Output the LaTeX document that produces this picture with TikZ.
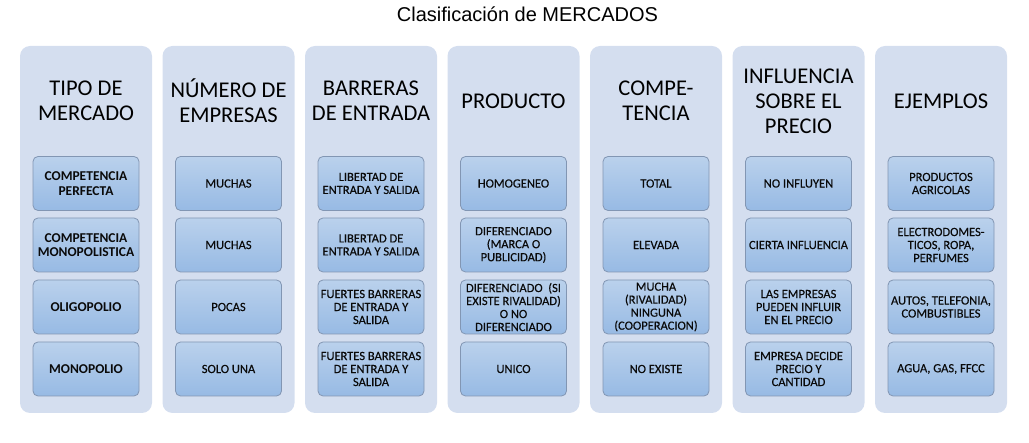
\documentclass[tikz,border=0pt]{standalone}
\usepackage{fontspec}
\setmainfont{Carlito}
\newfontfamily\titlefont{Liberation Sans}
\newfontfamily\cellfont{Carlito}[FakeBold=0.35]
\definecolor{panelc}{HTML}{D4DEEF}
\definecolor{celltop}{HTML}{BAD1EC}
\definecolor{cellbot}{HTML}{97BAE4}
\definecolor{cellborder}{HTML}{8296B3}
\definecolor{textc}{HTML}{0A0A0A}
\tikzset{
  panel/.style={rectangle, fill=panelc, rounded corners=10pt, minimum width=132pt, minimum height=367pt, inner sep=0pt},
  cell/.style={rectangle, draw=cellborder, line width=0.8pt, rounded corners=5pt, top color=celltop, bottom color=cellbot,
    minimum width=106pt, minimum height=54pt, inner sep=0.5pt, align=center, text=textc,
    font=\cellfont\fontsize{12.5}{13}\selectfont},
  bcell/.style={cell, font=\fontsize{13.5}{14.5}\selectfont\bfseries},
  head/.style={align=center, text=black, font=\fontsize{22.5}{25}\selectfont, inner sep=0pt},
}
\begin{document}
\begin{tikzpicture}[x=1pt,y=-1pt]
\useasboundingbox (0,0) rectangle (1029,443);
\node[font=\titlefont\fontsize{20}{22}\selectfont, inner sep=0pt] (title) at (527.5,14) {Clasificación de MERCADOS};
% panels
\node[panel] (p1) at (86,229.5) {};
\node[panel] (p2) at (228.5,229.5) {};
\node[panel] (p3) at (371,229.5) {};
\node[panel] (p4) at (513.5,229.5) {};
\node[panel] (p5) at (656,229.5) {};
\node[panel] (p6) at (798.5,229.5) {};
\node[panel] (p7) at (941,229.5) {};
% headers
\node[head] (h1) at (86,101) {TIPO DE\\MERCADO};
\node[head] (h2) at (228.5,101) {NÚMERO DE\\EMPRESAS};
\node[head] (h3) at (371,101) {BARRERAS\\DE ENTRADA};
\node[head] (h4) at (513.5,101) {PRODUCTO};
\node[head] (h5) at (656,101) {COMPE-\\TENCIA};
\node[head] (h6) at (798.5,101) {INFLUENCIA\\SOBRE EL\\PRECIO};
\node[head] (h7) at (941,101) {EJEMPLOS};
% column 1
\node[bcell] (c11) at (86,183.5) {COMPETENCIA\\PERFECTA};
\node[bcell] (c12) at (86,245) {COMPETENCIA\\MONOPOLISTICA};
\node[bcell] (c13) at (86,307) {OLIGOPOLIO};
\node[bcell] (c14) at (86,369) {MONOPOLIO};
% column 2
\node[cell] (c21) at (228.5,183.5) {MUCHAS};
\node[cell] (c22) at (228.5,245) {MUCHAS};
\node[cell] (c23) at (228.5,307) {POCAS};
\node[cell] (c24) at (228.5,369) {SOLO UNA};
% column 3
\node[cell] (c31) at (371,183.5) {LIBERTAD DE\\ENTRADA Y SALIDA};
\node[cell] (c32) at (371,245) {LIBERTAD DE\\ENTRADA Y SALIDA};
\node[cell] (c33) at (371,307) {FUERTES BARRERAS\\DE ENTRADA Y\\SALIDA};
\node[cell] (c34) at (371,369) {FUERTES BARRERAS\\DE ENTRADA Y\\SALIDA};
% column 4
\node[cell] (c41) at (513.5,183.5) {HOMOGENEO};
\node[cell] (c42) at (513.5,245) {DIFERENCIADO\\(MARCA O\\PUBLICIDAD)};
\node[cell] (c43) at (513.5,307) {DIFERENCIADO\ \ (SI\\EXISTE RIVALIDAD)\\O NO\\DIFERENCIADO};
\node[cell] (c44) at (513.5,369) {UNICO};
% column 5
\node[cell] (c51) at (656,183.5) {TOTAL};
\node[cell] (c52) at (656,245) {ELEVADA};
\node[cell] (c53) at (656,307) {MUCHA\\(RIVALIDAD)\\NINGUNA\\(COOPERACION)};
\node[cell] (c54) at (656,369) {NO EXISTE};
% column 6
\node[cell] (c61) at (798.5,183.5) {NO INFLUYEN};
\node[cell] (c62) at (798.5,245) {CIERTA INFLUENCIA};
\node[cell] (c63) at (798.5,307) {LAS EMPRESAS\\PUEDEN INFLUIR\\EN EL PRECIO};
\node[cell] (c64) at (798.5,369) {EMPRESA DECIDE\\PRECIO Y\\CANTIDAD};
% column 7
\node[cell] (c71) at (941,183.5) {PRODUCTOS\\AGRICOLAS};
\node[cell] (c72) at (941,245) {ELECTRODOMES-\\TICOS, ROPA,\\PERFUMES};
\node[cell] (c73) at (941,307) {AUTOS, TELEFONIA,\\COMBUSTIBLES};
\node[cell] (c74) at (941,369) {AGUA, GAS, FFCC};
\end{tikzpicture}
\end{document}
